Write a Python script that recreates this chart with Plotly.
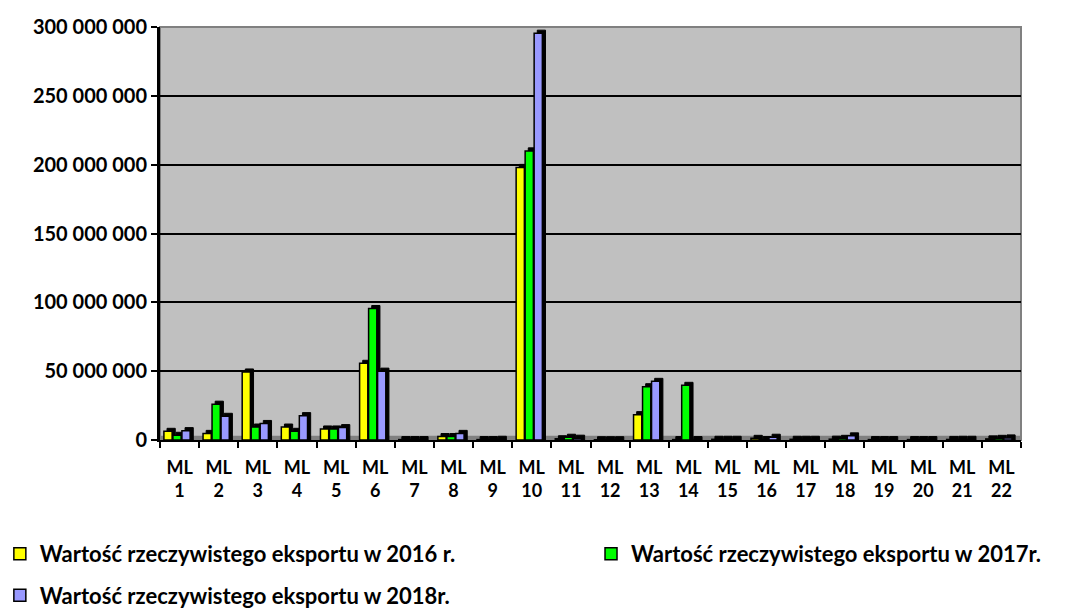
import plotly.graph_objects as go

categories = ["ML<br>%d" % i for i in range(1, 23)]
export_2016 = [6300000, 4800000, 49400000, 9400000, 8000000, 55700000, 300000, 2500000, 300000, 198000000,
               900000, 200000, 18400000, 300000, 500000, 1200000, 500000, 600000, 300000, 300000, 400000, 800000]
export_2017 = [3400000, 26000000, 9400000, 6300000, 8000000, 95500000, 300000, 2500000, 300000, 210000000,
               2000000, 200000, 38700000, 39700000, 500000, 300000, 500000, 1200000, 300000, 300000, 500000, 1200000]
export_2018 = [6800000, 17200000, 12000000, 17700000, 9000000, 50000000, 300000, 4800000, 500000, 295500000,
               1300000, 200000, 42600000, 300000, 500000, 2000000, 500000, 3000000, 300000, 300000, 500000, 1500000]

names = ["Wartość rzeczywistego eksportu w 2016 r.",
         "Wartość rzeczywistego eksportu w 2017r.",
         "Wartość rzeczywistego eksportu w 2018r."]
colors = ["#FFFF00", "#00FF00", "#9999FF"]
legend_ids = ["legend", "legend2", "legend"]
series = [export_2016, export_2017, export_2018]
offsets = [-0.40, -0.17, 0.06]
bw = 0.21
depth = 2200000
dx = 0.08

fig = go.Figure()
for i, (vals, name, col, off, lg) in enumerate(zip(series, names, colors, offsets, legend_ids)):
    fig.add_trace(go.Bar(x=categories, y=[v + depth for v in vals], offset=off + dx, width=bw,
                         marker=dict(color="black", line=dict(color="black", width=1)),
                         showlegend=False, hoverinfo="skip"))
    fig.add_trace(go.Bar(x=categories, y=vals, offset=off, width=bw, name=name,
                         legend=lg, legendgroup="g%d" % i,
                         marker=dict(color=col, line=dict(color="black", width=1.5))))

font = "Lato"
legend_font = dict(family=font, size=22, color="black", weight="bold")
fig.update_layout(
    width=1091, height=611,
    barmode="overlay",
    paper_bgcolor="white",
    plot_bgcolor="#C0C0C0",
    separators=", ",
    margin=dict(l=152, r=78, t=19, b=179, autoexpand=False),
    font=dict(family=font, size=18, color="black"),
    xaxis=dict(type="category", tickson="boundaries", ticks="outside", ticklen=6, tickcolor="black",
               tickwidth=2, showline=True, linecolor="black", linewidth=2, showgrid=False,
               ticklabelstandoff=10,
               tickfont=dict(family=font, size=18, color="black", weight="bold"), tickangle=0),
    yaxis=dict(range=[0, 300000000], dtick=50000000, tickformat=",d", ticks="outside", ticklen=6,
               tickcolor="black", tickwidth=2, showline=True, linecolor="black", linewidth=3,
               showgrid=True, gridcolor="black", gridwidth=2, zeroline=False,
               tickfont=dict(family=font, size=20, color="black", weight="bold")),
    legend=dict(orientation="v", x=-0.186, xanchor="left", y=-0.225, yanchor="top",
                tracegroupgap=10, font=legend_font, bgcolor="rgba(0,0,0,0)"),
    legend2=dict(orientation="v", x=0.5006, xanchor="left", y=-0.225, yanchor="top",
                 font=legend_font, bgcolor="rgba(0,0,0,0)"),
    shapes=[dict(type="rect", xref="paper", yref="paper", x0=0, x1=1, y0=0, y1=1,
                 line=dict(color="#808080", width=2), layer="below"),
            dict(type="rect", xref="paper", yref="paper", x0=0, x1=1, y0=0, y1=0.01,
                 line=dict(width=0), fillcolor="#808080", layer="below")],
)

fig.write_html("out.html")
